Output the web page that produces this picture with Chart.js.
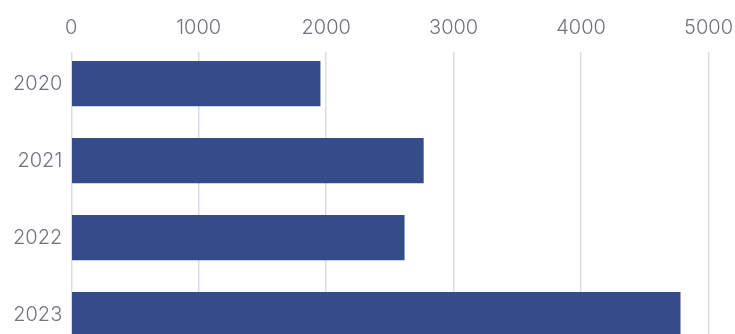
<!DOCTYPE html>
<html><head><meta charset="utf-8">
<script src="https://cdn.jsdelivr.net/npm/chart.js@4"></script>
<style>
html,body{margin:0;padding:0;background:#fff;overflow:hidden;width:735px;height:334px}
#wrap{position:relative;width:735px;height:334px}
</style></head>
<body><div id="wrap"><canvas id="c"></canvas></div>
<script>
const categories = ["2020","2021","2022","2023"];
const values = [1955, 2765, 2615, 4780];
const tickValues = [0,1000,2000,3000,4000,5000];

const font = { family: 'Inter', size: 20, weight: 300 };
new Chart(document.getElementById('c'), {
  type: 'bar',
  data: { datasets: [{ data: values.map((v, i) => ({ x: v, y: i })), backgroundColor: '#344c8a', barPercentage: 0.6, categoryPercentage: 0.98 }] },
  options: {
    indexAxis: 'y', responsive: true, maintainAspectRatio: false, animation: false,
    layout: { padding: { left: 4, right: 0, top: 4, bottom: 0 } },
    plugins: { legend: { display: false }, tooltip: { enabled: false } },
    scales: {
      x: { type: 'linear', position: 'top', min: 0, max: 5000,
        afterBuildTicks: s => { s.ticks = tickValues.map(v => ({ value: v })); },
        grid: { color: '#dcdce6', lineWidth: 1.5, drawTicks: false },
        border: { display: false },
        ticks: { color: '#72727e', padding: 2, callback: v => String(v), font: { ...font, lineHeight: 2.2 } } },
      y: { type: 'linear', reverse: true, offset: false, min: -0.41, max: 3.25,
        afterBuildTicks: s => { s.ticks = categories.map((c, i) => ({ value: i })); },
        afterFit: s => { s.paddingBottom = 0; s.paddingTop = 0; },
        grid: { display: false, drawTicks: false, offset: false }, border: { display: false },
        ticks: { color: '#72727e', padding: 9, callback: v => categories[v], font } }
    }
  }
});
</script></body></html>
